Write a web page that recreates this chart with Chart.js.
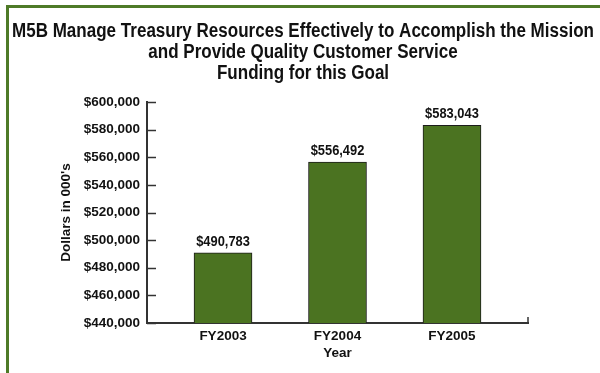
<!DOCTYPE html>
<html>
<head>
<meta charset="utf-8">
<script src="https://cdn.jsdelivr.net/npm/chart.js@4"></script>
<style>
  html, body { margin: 0; padding: 0; background: #fff; }
  #wrap { position: relative; width: 600px; height: 373px; overflow: hidden; }
  #frame {
    position: absolute; left: 6px; top: 5px; width: 700px; height: 500px;
    border-top: 3px solid #4e7a27; border-left: 3px solid #4e7a27;
  }
  #c { position: absolute; left: 0; top: 0; }
</style>
</head>
<body>
<div id="wrap">
  <div id="frame"></div>
  <canvas id="c" width="600" height="373"></canvas>
</div>
<script>
const titleLines = [
  'M5B Manage Treasury Resources Effectively to Accomplish the Mission',
  'and Provide Quality Customer Service',
  'Funding for this Goal'
];
const years = ['FY2003', 'FY2004', 'FY2005'];
const funding = [490783, 556492, 583043];
const yMin = 440000, yMax = 600000, yStep = 20000;

const FONT = "'Liberation Sans', Arial, sans-serif";

// draw text squeezed horizontally to look like the condensed face of the original
function narrowText(ctx, text, x, y, squeeze) {
  ctx.save();
  ctx.translate(x, y);
  ctx.scale(squeeze, 1);
  ctx.fillText(text, 0, 0);
  ctx.restore();
}

// title, value labels and inward tick marks
const extras = {
  id: 'extras',
  afterDraw(chart) {
    const ctx = chart.ctx;
    const area = chart.chartArea;
    const y = chart.scales.y;
    ctx.save();

    ctx.fillStyle = '#111';
    ctx.textAlign = 'center';
    ctx.textBaseline = 'middle';
    ctx.font = 'bold 19.5px ' + FONT;
    const sq = 582 / ctx.measureText(titleLines[0]).width;
    narrowText(ctx, titleLines[0], 303, 32, sq);
    narrowText(ctx, titleLines[1], 303, 53, sq);
    narrowText(ctx, titleLines[2], 303, 74, sq);

    ctx.font = 'bold 14px ' + FONT;
    ctx.textBaseline = 'alphabetic';
    chart.getDatasetMeta(0).data.forEach((bar, i) => {
      narrowText(ctx, '$' + funding[i].toLocaleString('en-US'), bar.x, bar.y - 7, 0.92);
    });

    ctx.strokeStyle = '#333';
    ctx.lineWidth = 1.5;
    y.ticks.forEach(t => {
      const py = Math.round(y.getPixelForValue(t.value)) + 0.5;
      ctx.beginPath();
      ctx.moveTo(area.left, py);
      ctx.lineTo(area.left + 9, py);
      ctx.stroke();
    });
    ctx.beginPath();
    ctx.moveTo(area.right, area.bottom);
    ctx.lineTo(area.right, area.bottom - 6);
    ctx.stroke();
    ctx.restore();
  }
};

new Chart(document.getElementById('c'), {
  type: 'bar',
  data: {
    datasets: [{
      data: funding.map((v, i) => ({ x: i, y: v })),
      backgroundColor: '#4b7321',
      borderColor: '#1c1c1c',
      borderWidth: 1,
      barThickness: 58
    }]
  },
  options: {
    responsive: false,
    animation: false,
    layout: { padding: { top: 102, left: 50, right: 72, bottom: 0 } },
    plugins: { legend: { display: false }, tooltip: { enabled: false } },
    scales: {
      x: {
        type: 'linear',
        offset: false,
        min: -0.664, max: 2.664,
        afterBuildTicks: axis => { axis.ticks = years.map((_, i) => ({ value: i })); },
        afterFit: axis => { axis.height = 50; },
        grid: { display: false, drawTicks: false },
        border: { display: true, color: '#333', width: 2 },
        ticks: {
          callback: v => years[v] || '',
          color: '#111', padding: 5, maxRotation: 0,
          font: { family: FONT, size: 13.5, weight: 'bold' }
        },
        title: {
          display: true, text: 'Year', color: '#111',
          padding: { top: 0, bottom: 12 },
          font: { family: FONT, size: 13.5, weight: 'bold' }
        }
      },
      y: {
        min: yMin, max: yMax,
        afterFit: axis => { axis.width = 97; },
        grid: { display: false, drawTicks: false },
        border: { display: true, color: '#333', width: 2 },
        ticks: {
          stepSize: yStep, color: '#111', padding: 7,
          callback: v => '$' + v.toLocaleString('en-US'),
          font: { family: FONT, size: 13.5, weight: 'bold' }
        },
        title: {
          display: true, text: "Dollars in 000's", color: '#111',
          padding: { top: 8, bottom: 0 },
          font: { family: FONT, size: 13.5, weight: 'bold' }
        }
      }
    }
  },
  plugins: [extras]
});
</script>
</body>
</html>
